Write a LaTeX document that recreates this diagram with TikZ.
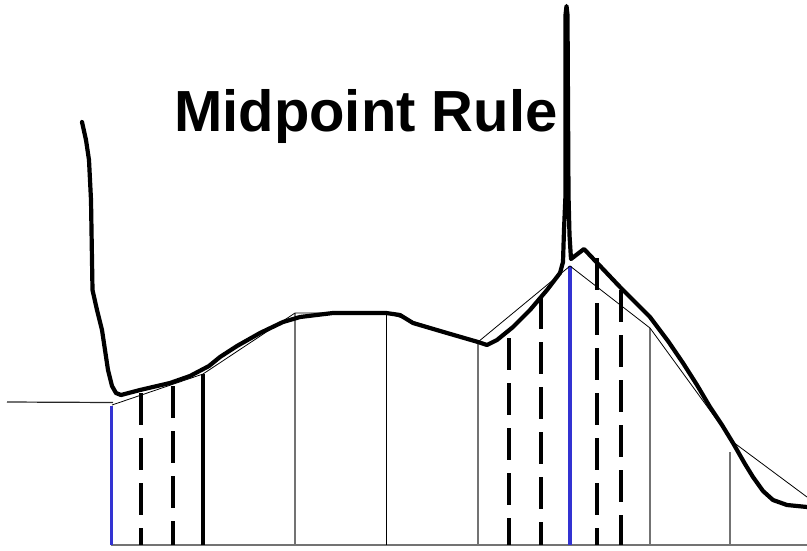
\documentclass[tikz,border=0pt]{standalone}
\usepackage{fontspec}
\setmainfont{Liberation Sans}
\begin{document}
\begin{tikzpicture}[x=1pt,y=-1pt,
  curve/.style={line width=4.2pt,line join=round,line cap=round},
  poly/.style={line width=0.8pt,black,line join=miter},
  thinv/.style={line width=1.1pt,black!55},
  thinvb/.style={line width=1pt,black},
  midline/.style={line width=4.3pt,dash pattern=on 32pt off 13pt},
  bluev/.style={line width=3.4pt,draw={rgb,255:red,51;green,51;blue,210}},
  solidv/.style={line width=3.4pt,black}]
\useasboundingbox (0,0) rectangle (807,550);
% baseline
\draw[line width=1.1pt,black!55] (111,545) -- (807,545);
% verticals
\draw[bluev] (111.5,406) -- (111.5,545);
\draw[solidv] (203,374) -- (203,545);
\draw[thinv] (295,313) -- (295,545);
\draw[thinvb] (386.5,313) -- (386.5,545);
\draw[thinv] (478,342) -- (478,545);
\draw[bluev] (570,266) -- (570,545);
\draw[thinv] (650,328) -- (650,545);
\draw[thinv] (730,452) -- (730,545);
% dashed midpoints
\draw[midline] (141,393) -- (141,545);
\draw[midline] (172.7,386) -- (172.7,545);
\draw[midline] (509,338) -- (509,545);
\draw[midline] (540.7,297) -- (540.7,545);
\draw[midline] (596.7,258) -- (596.7,545);
\draw[midline] (620.7,290) -- (620.7,545);
% thin polygon
\draw[poly] (112,405) -- (203,374) -- (295,313) -- (386.5,313) -- (478,342)
  -- (570,266) -- (650,328) -- (733,442) -- (807,497);
% thin lead-in
\draw[line width=1.2pt,black!85] (7,402) -- (113,402.5);
% thick curve
\draw[curve] (82,122) -- (86,140) -- (89,160) -- (91,200) -- (92.5,290)
  -- (97,310) -- (102,330) -- (105,350) -- (108,370) -- (112,386)
  -- (116,393) -- (121,395) -- (140,390) -- (170,383) -- (190,376)
  -- (209,366) -- (220,357) -- (237,346) -- (260,333) -- (283,322)
  -- (300,317) -- (333,313) -- (386,313) -- (400,315) -- (413,323)
  -- (447,333) -- (478,342) -- (487,345) -- (497,340) -- (513,327)
  -- (530,310) -- (547,290) -- (560,273) -- (563,262) -- (564,230)
  -- (565.5,195) -- (565.5,15) -- (566.5,6) -- (567.5,15) -- (568.5,195)
  -- (569.5,235) -- (571,259) -- (584,249) -- (602,268) -- (620,287)
  -- (650,317) -- (668,341) -- (683,363) -- (697,385) -- (710,407)
  -- (722,425) -- (733,443) -- (745,464) -- (753,477) -- (763,491)
  -- (773,500) -- (787,505) -- (807,507);
% title
\node[font=\bfseries\fontsize{58}{60}\selectfont,anchor=base west,inner sep=0pt]
  (title) at (174,131.5) {Midpoint Rule};
\end{tikzpicture}
\end{document}
